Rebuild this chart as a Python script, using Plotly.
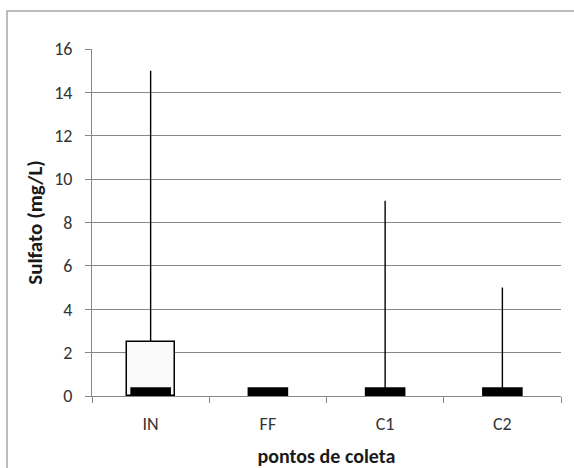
import plotly.graph_objects as go

categories = ["IN", "FF", "C1", "C2"]
q1 = [0, 0, 0, 0]
q3 = [2.5, 0, 0, 0]
maxima = [15, 0, 9, 5]
medians = [0.2, 0.2, 0.2, 0.2]
y_ticks = [0, 2, 4, 6, 8, 10, 12, 14, 16]

font_family = "Carlito, Calibri, Lato, 'Open Sans', sans-serif"
grey = "#878787"

fig = go.Figure()

# Box (q1 -> q3), only where it has height
box_x, box_base, box_h = [], [], []
for c, a, b in zip(categories, q1, q3):
    if b - a > 0:
        box_x.append(c)
        box_base.append(a)
        box_h.append(b - a)
fig.add_trace(go.Bar(
    x=box_x, y=box_h, base=box_base, width=0.41,
    marker=dict(color="#f9f9f9", line=dict(color="black", width=1.5)),
    showlegend=False, hoverinfo="skip",
))

# Whiskers (q3 -> max)
wx, wy = [], []
for c, b, m in zip(categories, q3, maxima):
    if m > b:
        wx += [c, c, None]
        wy += [b, m, None]
fig.add_trace(go.Scatter(
    x=wx, y=wy, mode="lines", line=dict(color="black", width=1.4),
    showlegend=False, hoverinfo="skip",
))

# Median marks
fig.add_trace(go.Scatter(
    x=categories, y=medians, mode="markers",
    marker=dict(symbol="line-ew", size=29, line=dict(color="black", width=9)),
    showlegend=False,
))

fig.update_layout(
    width=574, height=468, autosize=False,
    margin=dict(l=92, r=13, t=49, b=72),
    paper_bgcolor="white", plot_bgcolor="white",
    font=dict(family=font_family, size=18, color="#333333"),
    bargap=0,
    xaxis=dict(
        type="category", categoryorder="array", categoryarray=categories,
        range=[-0.5, 3.5], automargin=False,
        showline=True, linecolor=grey, linewidth=1,
        ticks="outside", tickson="boundaries", ticklen=6, tickcolor=grey,
        showgrid=False, ticklabelstandoff=11,
        title=dict(text="<b>pontos de coleta</b>", standoff=17,
                   font=dict(size=20, color="#1a1a1a")),
    ),
    yaxis=dict(
        range=[0, 16], tickvals=y_ticks, automargin=False,
        showline=True, linecolor=grey, linewidth=1,
        ticks="outside", ticklen=6, tickcolor=grey,
        showgrid=True, gridcolor=grey, gridwidth=1,
        zeroline=False, ticklabelstandoff=9,
        title=dict(text="<b>Sulfato (mg/L)</b>", standoff=5,
                   font=dict(size=21, color="#1a1a1a")),
    ),
    shapes=[dict(
        type="rect", xref="paper", yref="paper",
        x0=(7 - 92) / 469, x1=(590 - 92) / 469,
        y0=(396 - 480) / 347, y1=(396 - 11) / 347,
        line=dict(color="#a6a6a6", width=1.5), layer="below",
    )],
)

post = (
    "document.body.style.margin='0';"
    "document.body.style.overflow='hidden';"
    "var gd=document.getElementById('{plot_id}');"
    "Plotly.relayout(gd,{width:574,height:468});"
)
fig.write_html("out.html", post_script=post,
               config={"responsive": False, "displayModeBar": False})
